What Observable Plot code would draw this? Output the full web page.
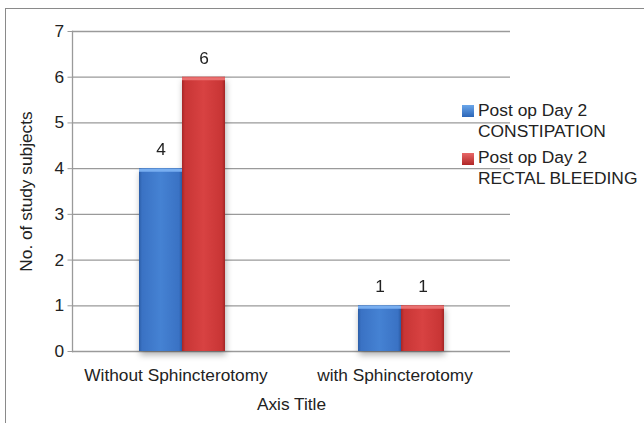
<!DOCTYPE html>
<html>
<head>
<meta charset="utf-8">
<script src="https://cdn.jsdelivr.net/npm/d3@7"></script>
<script src="https://cdn.jsdelivr.net/npm/@observablehq/plot@0.6"></script>
<style>
  body { margin: 0; background: #fff; font-family: "Liberation Sans", Arial, sans-serif; }
  #wrap { position: relative; width: 644px; height: 423px; overflow: hidden; background: #fff; }
  #wrap svg { position: absolute; left: 0; top: 0; }
  #border { position: absolute; left: 5px; top: 8px; width: 700px; height: 500px;
            border-left: 1.5px solid #8a8a8a; border-top: 1.5px solid #8a8a8a; }
  .sw { position: absolute; width: 12px; height: 12px; }
  .lt { position: absolute; font-size: 17.4px; line-height: 21px; color: #222; white-space: nowrap; }
</style>
</head>
<body>
<div id="wrap">
  <div id="border"></div>
</div>
<script>
// Groups on the category axis and the two series plotted in each group
const categories = ["Without Sphincterotomy", "with Sphincterotomy"];
const seriesNames = ["Post op Day 2 CONSTIPATION", "Post op Day 2 RECTAL BLEEDING"];
const constipation = [4, 1];
const rectalBleeding = [6, 1];
const yTicks = [0, 1, 2, 3, 4, 5, 6, 7];

const seriesValues = [constipation, rectalBleeding];
const rows = [];
categories.forEach((c, i) => {
  seriesNames.forEach((s, j) => rows.push({category: c, series: s, value: seriesValues[j][i]}));
});

const bevel = new Map([[seriesNames[0], "#78aef0"], [seriesNames[1], "#ea7070"]]);

const chart = Plot.plot({
  width: 644,
  height: 423,
  marginLeft: 71,
  marginRight: 134,
  marginTop: 31,
  marginBottom: 72,
  style: {fontFamily: "'Liberation Sans', Arial, sans-serif", fontSize: "17.3px", color: "#222", background: "transparent"},
  fx: {domain: categories, padding: 0},
  x: {domain: seriesNames, paddingInner: 0, paddingOuter: 1.5, axis: null},
  y: {domain: [0, 7]},
  color: {domain: seriesNames, range: ["url(#gradBlue)", "url(#gradRed)"]},
  marks: [
    Plot.gridY(yTicks, {stroke: "#9a9a9a", strokeOpacity: 1, strokeWidth: 1.3}),
    Plot.frame({anchor: "left", facetAnchor: "left", stroke: "#9a9a9a", strokeWidth: 1.3}),
    Plot.axisY(yTicks, {
      tickSize: 4.5, tickPadding: 4, stroke: "#9a9a9a", fill: "#222",
      label: "No. of study subjects", labelAnchor: "center", labelArrow: "none", labelOffset: 53
    }),
    Plot.axisFx({
      anchor: "bottom", tickSize: 0, tickPadding: 17, fill: "#222", dx: -6,
      label: "Axis Title", labelAnchor: "center", labelArrow: "none", labelOffset: 58
    }),
    Plot.barY(rows, {fx: "category", x: "series", y: "value", fill: "series"}),
    Plot.tickY(rows, {fx: "category", x: "series", y: "value", stroke: d => bevel.get(d.series), strokeWidth: 3, dy: 1.5}),
    Plot.text(rows, {fx: "category", x: "series", y: "value", text: "value", dy: -19, fill: "#222"})
  ]
});

// Horizontal gradients give the bars their rounded, bevelled look
const defs = d3.select(chart).insert("defs", ":first-child");
function grad(id, stops) {
  const g = defs.append("linearGradient").attr("id", id).attr("x1", 0).attr("x2", 1).attr("y1", 0).attr("y2", 0);
  stops.forEach(([o, c]) => g.append("stop").attr("offset", o).attr("stop-color", c));
}
grad("gradBlue", [[0, "#2b5da6"], [0.07, "#3a72c4"], [0.5, "#4582d3"], [0.93, "#3a72c4"], [1, "#2a5aa2"]]);
grad("gradRed", [[0, "#a52626"], [0.07, "#c83535"], [0.5, "#d84242"], [0.93, "#c83535"], [1, "#a22424"]]);
d3.select(chart).selectAll('g[aria-label="bar"]').style("filter", "drop-shadow(1px 4px 3px rgba(0,0,0,0.3))");

const wrap = document.getElementById("wrap");
wrap.appendChild(chart);

// Legend at the right of the plot area
const legendItems = [
  {lines: ["Post op Day 2", "CONSTIPATION"], swatch: "linear-gradient(#6aa6ea, #2c66b8)", top: 99.5},
  {lines: ["Post op Day 2", "RECTAL BLEEDING"], swatch: "linear-gradient(#e86868, #b02626)", top: 147.2}
];
legendItems.forEach(item => {
  const sw = document.createElement("div");
  sw.className = "sw";
  sw.style.left = "462px";
  sw.style.top = (item.top + 5.5) + "px";
  sw.style.background = item.swatch;
  wrap.appendChild(sw);
  const t = document.createElement("div");
  t.className = "lt";
  t.style.left = "478px";
  t.style.top = item.top + "px";
  t.innerHTML = item.lines.join("<br>");
  wrap.appendChild(t);
});
</script>
</body>
</html>
